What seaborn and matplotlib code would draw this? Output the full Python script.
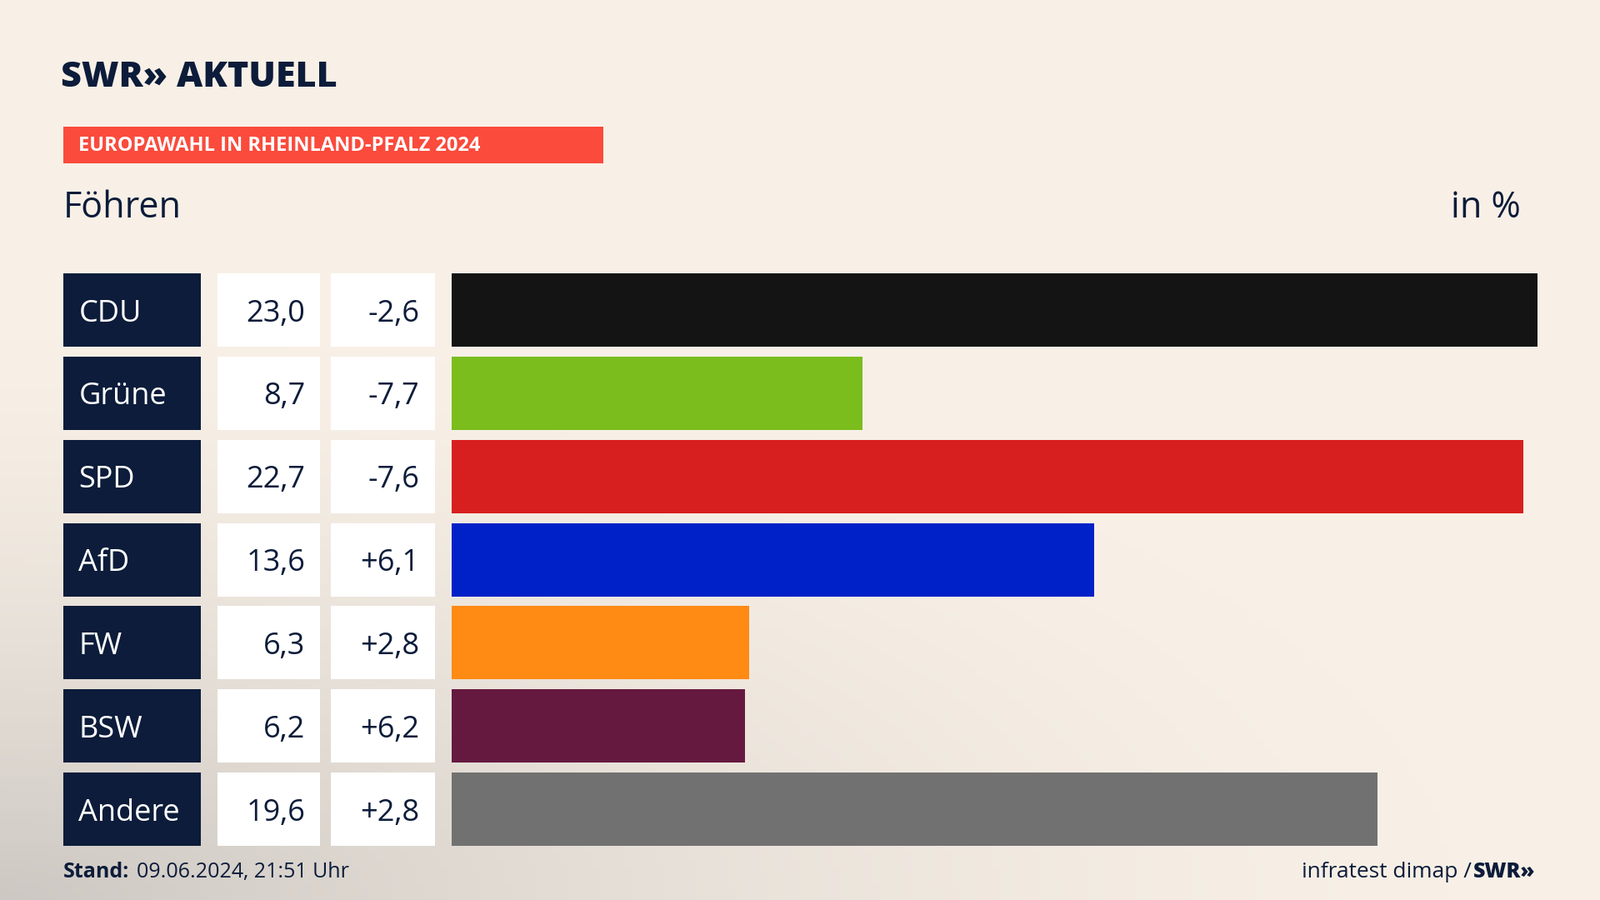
import matplotlib
matplotlib.use("Agg")
import matplotlib.pyplot as plt
import matplotlib.transforms as mtransforms
from matplotlib.patches import Rectangle
import numpy as np
import pandas as pd
import seaborn as sns

parties = ["CDU", "Grüne", "SPD", "AfD", "FW", "BSW", "Andere"]
values = [23.0, 8.7, 22.7, 13.6, 6.3, 6.2, 19.6]
changes = ["-2,6", "-7,7", "-7,6", "+6,1", "+2,8", "+6,2", "+2,8"]
colors = ["#141414", "#7abd1c", "#d71f1f", "#0021c8", "#ff8a14", "#66193f", "#717171"]

W, H = 1568, 882
FONT = "Open Sans"
NAVY = "#0c1c3a"
fig = plt.figure(figsize=(19.2, 10.8), dpi=100)

bg = fig.add_axes([0, 0, 1, 1], zorder=-10)
yy, xx = np.mgrid[0:1:200j, 0:1:200j]
d = np.clip(1 - np.hypot(xx * 1.1, (yy) * 1.6), 0, 1)
base = np.array([248, 240, 230]) / 255
grey = np.array([205, 200, 195]) / 255
img = base + (grey - base) * (d[..., None] ** 1.5)
bg.imshow(img, extent=[0, 1, 0, 1], origin="lower", aspect="auto")
bg.axis("off")

def fx(px): return px / W
def fy(py): return 1 - py / H

ax = fig.add_axes([fx(443), fy(829), fx(1507) - fx(443), (829 - 268) / H])
df = pd.DataFrame({"party": parties, "value": values})
sns.barplot(data=df, x="value", y="party", hue="party", palette=colors, order=parties,
            orient="h", width=72 / 81.6, legend=False, ax=ax, saturation=1)
ax.set_xlim(0, 23.0)
ax.set_ylim(6 + 0.441, -0.441)
ax.axis("off")

tr = mtransforms.blended_transform_factory(fig.transFigure, ax.transData)
h = 72 / 81.6
for i, (p, v, c) in enumerate(zip(parties, values, changes)):
    for x0, x1, col in [(62, 197, NAVY), (213, 314, "white"), (324, 426, "white")]:
        ax.add_patch(Rectangle((fx(x0), i - h / 2), fx(x1) - fx(x0), h, transform=tr,
                               facecolor=col, edgecolor="none", clip_on=False))
    ax.text(fx(77), i, p, transform=tr, color="white", fontsize=26, family=FONT,
            va="center_baseline", ha="left")
    ax.text(fx(299), i, f"{v:.1f}".replace(".", ","), transform=tr, color=NAVY,
            fontsize=26, family=FONT, va="center_baseline", ha="right")
    ax.text(fx(411), i, c, transform=tr, color=NAVY, fontsize=26, family=FONT,
            va="center_baseline", ha="right")

fig.text(fx(60), fy(76), "SWR» AKTUELL", fontsize=31, fontweight="heavy", family=FONT,
         color=NAVY, va="center", ha="left")
fig.patches.append(Rectangle((fx(62), fy(160)), fx(591) - fx(62), (160 - 124) / H,
                             transform=fig.transFigure, facecolor="#fa4b3c", edgecolor="none"))
fig.text(fx(77), fy(143), "EUROPAWAHL IN RHEINLAND-PFALZ 2024", fontsize=17, fontweight="bold",
         family=FONT, color="white", va="center", ha="left")
fig.text(fx(62), fy(204), "Föhren", fontsize=31, family=FONT, color=NAVY, va="center")
fig.text(fx(1490), fy(204), "in %", fontsize=31, family=FONT, color=NAVY, va="center", ha="right")
fig.text(fx(62), fy(855), "Stand:", fontsize=18, fontweight="bold", family=FONT,
         color=NAVY, va="center")
fig.text(fx(134), fy(855), "09.06.2024, 21:51 Uhr", fontsize=18, family=FONT,
         color=NAVY, va="center")
fig.text(fx(1505), fy(855), "SWR»", fontsize=18, fontweight="heavy", family=FONT,
         color=NAVY, va="center", ha="right")
fig.text(fx(1442), fy(855), "infratest dimap /", fontsize=19, family=FONT,
         color=NAVY, va="center", ha="right")

fig.savefig("out.png", dpi=100)
